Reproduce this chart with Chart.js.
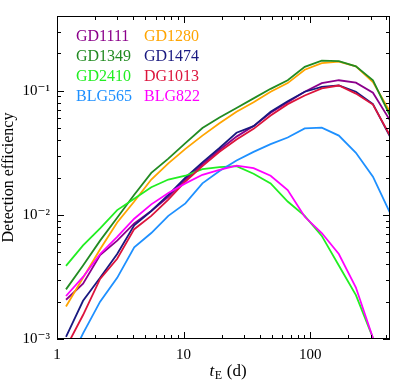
<!DOCTYPE html>
<html><head><meta charset="utf-8">
<script src="https://cdn.jsdelivr.net/npm/chart.js@4.4.1/dist/chart.umd.min.js"></script>
<style>html,body{margin:0;padding:0;background:#fff}canvas{display:block}</style>
</head><body>
<canvas id="c" width="400" height="382"></canvas>
<script>
// Einstein timescale grid (days)
const tE = [1.178, 1.606, 2.190, 2.987, 4.073, 5.554, 7.573, 10.33, 14.08, 19.20,
            26.18, 35.70, 48.68, 66.39, 90.53, 123.4, 168.3, 229.6, 313.0, 426.8];

const GD1111 = [0.00207, 0.00279, 0.00475, 0.00620, 0.00853, 0.01074, 0.0140, 0.01927, 0.02557, 0.0333,
                0.0427, 0.0519, 0.0665, 0.0809, 0.0982, 0.1152, 0.1215, 0.1162, 0.0965, 0.0577];
const GD1280 = [0.00183, 0.00311, 0.00529, 0.00868, 0.01281, 0.01927, 0.0260, 0.0340, 0.0435, 0.0548,
                0.0677, 0.0809, 0.0982, 0.1152, 0.1476, 0.1671, 0.1716, 0.1571, 0.1173, 0.0677];
const GD1349 = [0.00251, 0.00391, 0.00620, 0.00948, 0.0145, 0.0218, 0.0284, 0.0378, 0.0501, 0.0609,
                0.0727, 0.0868, 0.1036, 0.1215, 0.1557, 0.1747, 0.1732, 0.1571, 0.1215, 0.0631];
const GD1474 = [0.00104, 0.00203, 0.00311, 0.00484, 0.00823, 0.01074, 0.0145, 0.01995, 0.02649, 0.03456,
                0.0459, 0.0519, 0.0677, 0.0823, 0.0982, 0.1074, 0.1106, 0.0982, 0.0780, 0.0427];
const GD2410 = [0.00388, 0.00567, 0.0078, 0.01093, 0.01351, 0.0167, 0.01927, 0.02067, 0.02339, 0.02425,
                0.02468, 0.02142, 0.01794, 0.01281, 0.00982, 0.00677, 0.00391, 0.00226, 0.00102, 0.000405];
const DG1013 = [0.000853, 0.00156, 0.00305, 0.00443, 0.00767, 0.00982, 0.01328, 0.01858, 0.02468, 0.0322,
                0.0405, 0.0493, 0.0631, 0.0780, 0.0915, 0.1045, 0.1102, 0.0948, 0.0774, 0.0435];
const BLG565 = [0.000577, 0.00111, 0.00200, 0.00311, 0.00548, 0.00714, 0.00982, 0.01237, 0.01794, 0.02259,
                0.02745, 0.0322, 0.0371, 0.0420, 0.0497, 0.0505, 0.0435, 0.0316, 0.0203, 0.01036];
const BLG822 = [0.00222, 0.00316, 0.00484, 0.00665, 0.00931, 0.01215, 0.01503, 0.01794, 0.02104, 0.02299,
                0.0249, 0.02381, 0.02067, 0.01585, 0.00965, 0.00714, 0.00484, 0.0026, 0.00102, 0.000371];

const seriesNames  = ['GD1111', 'GD1280', 'GD1349', 'GD1474', 'GD2410', 'DG1013', 'BLG565', 'BLG822'];
const seriesValues = [GD1111, GD1280, GD1349, GD1474, GD2410, DG1013, BLG565, BLG822];
const seriesColors = ['#8B008B', '#FFA500', '#228B22', '#191980', '#22EE22', '#DC143C', '#1E90FF', '#FF00FF'];

const xTickValues = [1, 10, 100];
const xTickLabels = ['1', '10', '100'];
const yTickValues = [0.001, 0.01, 0.1];
const yTickLabels = ['10\u207B\u00B3', '10\u207B\u00B2', '10\u207B\u00B9'];

const FONT = '"Liberation Serif", "DejaVu Serif", serif';

const framePlugin = {
  id: 'frame',
  afterDatasetsDraw(chart) {
    const ctx = chart.ctx, a = chart.chartArea, xs = chart.scales.x, ys = chart.scales.y;
    ctx.save();
    ctx.strokeStyle = '#000';
    ctx.lineWidth = 1;
    ctx.beginPath();
    // inward tick marks, major and minor, on all four sides
    [1, 10, 100].forEach(d => {
      for (let m = 1; m <= 9; m++) {
        const v = m * d;
        if (v < xs.min || v > xs.max) continue;
        const px = Math.round(xs.getPixelForValue(v)) + 0.5;
        const len = m === 1 ? 7 : 4;
        ctx.moveTo(px, a.bottom); ctx.lineTo(px, a.bottom - len);
        ctx.moveTo(px, a.top); ctx.lineTo(px, a.top + len);
      }
    });
    [0.001, 0.01, 0.1].forEach(d => {
      for (let m = 1; m <= 9; m++) {
        const v = m * d;
        if (v < ys.min || v > ys.max) continue;
        const py = Math.round(ys.getPixelForValue(v)) + 0.5;
        const len = m === 1 ? 7 : 4;
        ctx.moveTo(a.left, py); ctx.lineTo(a.left + len, py);
        ctx.moveTo(a.right, py); ctx.lineTo(a.right - len, py);
      }
    });
    ctx.stroke();
    ctx.strokeRect(Math.round(a.left) + 0.5, Math.round(a.top) + 0.5,
                   Math.round(a.right - a.left) - 1, Math.round(a.bottom - a.top) - 1);

    // legend: coloured names, two columns
    ctx.font = '16px ' + FONT;
    ctx.textBaseline = 'middle';
    ctx.textAlign = 'left';
    chart.data.datasets.forEach((ds, i) => {
      const col = i % 2, row = Math.floor(i / 2);
      ctx.fillStyle = ds.borderColor;
      ctx.fillText(ds.label, a.left + 19 + col * 68, a.top + 21 + row * 20);
    });

    // x-axis title: t_E (d)
    const base = 376;
    ctx.fillStyle = '#000';
    ctx.textBaseline = 'alphabetic';
    ctx.font = 'italic 17px ' + FONT;
    const w1 = ctx.measureText('t').width;
    ctx.font = '12px ' + FONT;
    const w2 = ctx.measureText('E').width;
    ctx.font = '17px ' + FONT;
    const w3 = ctx.measureText(' (d)').width;
    let x0 = (a.left + a.right) / 2 + 4 - (w1 + w2 + w3) / 2;
    ctx.font = 'italic 17px ' + FONT;
    ctx.fillText('t', x0, base);
    ctx.font = '12px ' + FONT;
    ctx.fillText('E', x0 + w1 + 0.5, base + 3);
    ctx.font = '17px ' + FONT;
    ctx.fillText(' (d)', x0 + w1 + w2 + 1, base);
    ctx.restore();
  }
};

new Chart(document.getElementById('c'), {
  type: 'line',
  data: {
    labels: tE,
    datasets: seriesNames.map((name, i) => ({
      label: name,
      data: tE.map((t, k) => ({ x: t, y: seriesValues[i][k] })),
      borderColor: seriesColors[i],
      backgroundColor: seriesColors[i],
      borderWidth: 1.8,
      pointRadius: 0,
      tension: 0,
      fill: false,
      order: seriesNames.length - i
    }))
  },
  options: {
    responsive: false,
    animation: false,
    devicePixelRatio: 1,
    layout: { padding: { top: 1, right: 10, left: 0, bottom: 0 } },
    plugins: { legend: { display: false }, tooltip: { enabled: false } },
    scales: {
      x: {
        type: 'logarithmic',
        min: 1, max: 426.8,
        grid: { display: false, drawTicks: false },
        border: { display: false },
        ticks: {
          padding: 7, color: '#000', font: { family: FONT, size: 15 },
          maxRotation: 0, autoSkip: false,
          callback: (v) => { const i = xTickValues.indexOf(v); return i >= 0 ? xTickLabels[i] : ''; }
        },
        afterBuildTicks: (s) => { s.ticks = xTickValues.map(v => ({ value: v })); },
        afterFit: (s) => { s.height = 43; }
      },
      y: {
        type: 'logarithmic',
        min: 0.001, max: 0.4,
        grid: { display: false, drawTicks: false },
        border: { display: false },
        title: { display: true, text: 'Detection efficiency', color: '#000',
                 font: { family: FONT, size: 16, lineHeight: 1.0 }, padding: { top: 1, bottom: 0 } },
        ticks: {
          padding: 7, color: '#000', font: { family: FONT, size: 15 },
          callback: (v) => { const i = yTickValues.indexOf(v); return i >= 0 ? yTickLabels[i] : ''; }
        },
        afterBuildTicks: (s) => { s.ticks = yTickValues.map(v => ({ value: v })); },
        afterFit: (s) => { s.width = 57; }
      }
    }
  },
  plugins: [framePlugin]
});
</script>
</body></html>
